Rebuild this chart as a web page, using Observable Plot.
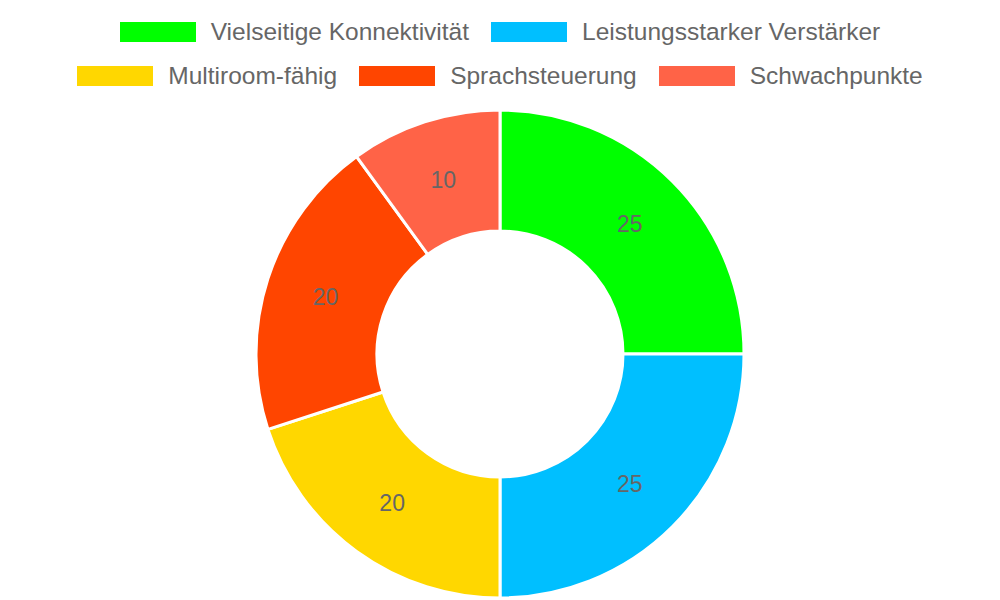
<!DOCTYPE html>
<html>
<head>
<meta charset="utf-8">
<script src="https://cdn.jsdelivr.net/npm/d3@7"></script>
<script src="https://cdn.jsdelivr.net/npm/@observablehq/plot@0.6"></script>
<style>
  html, body { margin: 0; padding: 0; background: #fff; }
  body { width: 1000px; height: 600px; overflow: hidden; font-family: "Liberation Sans", Arial, sans-serif; }
  #legend { box-sizing: border-box; height: 100px; padding-top: 10px; display: flex; flex-wrap: wrap; justify-content: center; align-content: flex-start; width: 1000px; }
  .item { display: flex; align-items: center; height: 44px; margin: 0 11px; color: #666; font-size: 24.5px; white-space: nowrap; }
  .sw { width: 76px; height: 20px; margin-right: 15px; flex: none; }
</style>
</head>
<body>
<div id="legend"></div>
<div id="chart"></div>
<script>
const categories = ["Vielseitige Konnektivität", "Leistungsstarker Verstärker", "Multiroom-fähig", "Sprachsteuerung", "Schwachpunkte"];
const values = [25, 25, 20, 20, 10];
const colors = ["#00FF00", "#00BFFF", "#FFD700", "#FF4500", "#FF6347"];

const data = categories.map((c, i) => ({category: c, value: values[i]}));

// legend
const legend = d3.select("#legend");
categories.forEach((c, i) => {
  const it = legend.append("div").attr("class", "item");
  it.append("div").attr("class", "sw").style("background", colors[i]);
  it.append("span").text(c);
});

const W = 1000, H = 500;
const outerR = 244, innerR = 123;

const pie = d3.pie().value(d => d.value).sort(null);
const arcs = pie(data);
const arcGen = d3.arc().innerRadius(innerR).outerRadius(outerR);
const labelArc = d3.arc().innerRadius((innerR + outerR) / 2).outerRadius((innerR + outerR) / 2);

const doughnut = (index, scales, values_, dimensions) => {
  const cx = dimensions.width / 2;
  const cy = dimensions.height / 2 + 4;
  const g = d3.create("svg:g").attr("transform", `translate(${cx},${cy})`);
  g.selectAll("path").data(arcs).join("path")
    .attr("d", arcGen)
    .attr("fill", d => scales.color(d.data.category))
    .attr("stroke", "#fff")
    .attr("stroke-width", 3)
    .attr("stroke-linejoin", "round");
  g.selectAll("text").data(arcs).join("text")
    .attr("transform", d => `translate(${labelArc.centroid(d)})`)
    .attr("text-anchor", "middle")
    .attr("dy", "0.35em")
    .attr("fill", "#666")
    .attr("font-size", 23)
    .attr("font-family", "'Liberation Sans', Arial, sans-serif")
    .text(d => d.data.value);
  return g.node();
};

const chart = Plot.plot({
  width: W,
  height: H,
  margin: 0,
  x: {axis: null},
  y: {axis: null},
  color: {domain: categories, range: colors},
  marks: [
    Plot.cell(data, {fill: "category", fillOpacity: 0, x: "category", y: "value", stroke: null}),
    doughnut
  ]
});
document.getElementById("chart").appendChild(chart);
</script>
</body>
</html>
